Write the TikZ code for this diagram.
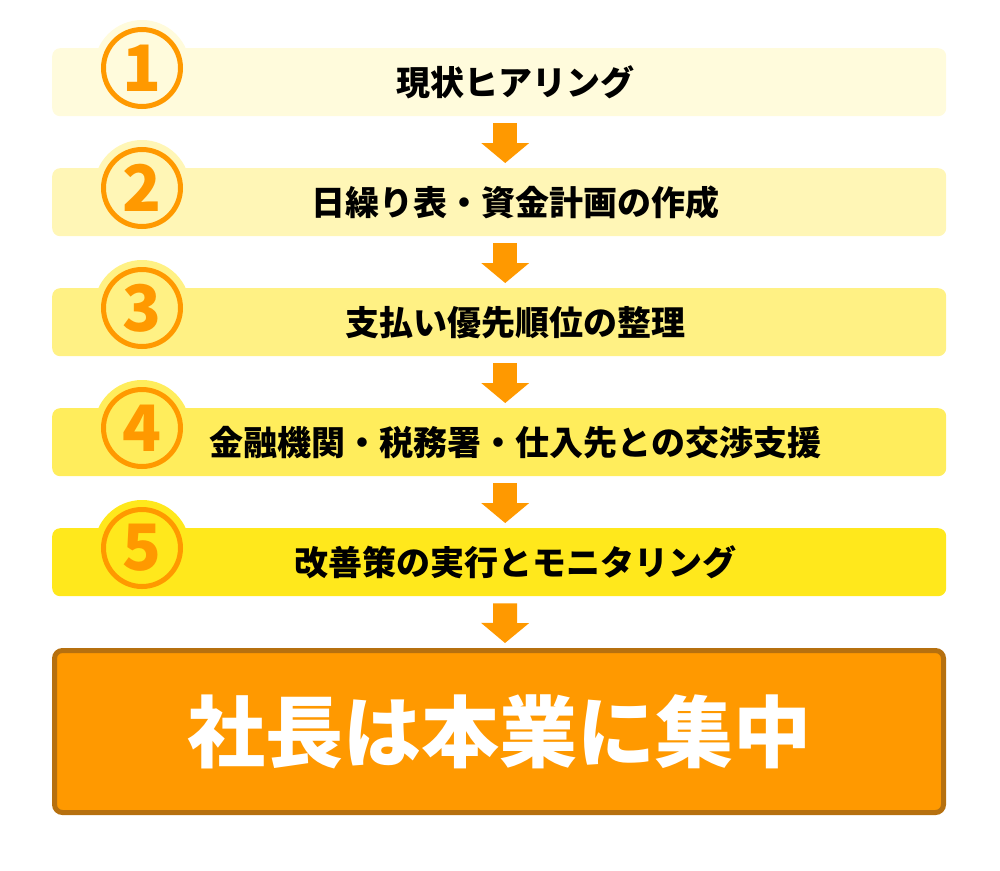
\documentclass[tikz,border=0pt]{standalone}
\usepackage{fontspec}
\usetikzlibrary{arrows.meta,positioning}
\newfontfamily\jp{Noto Sans CJK JP}
\definecolor{barA}{HTML}{FFFBDC}
\definecolor{barB}{HTML}{FFF6B6}
\definecolor{barC}{HTML}{FFF184}
\definecolor{barD}{HTML}{FFED5C}
\definecolor{barE}{HTML}{FFE81C}
\definecolor{flow}{HTML}{FF9900}
\definecolor{rim}{HTML}{B6700F}
\tikzset{
  bar/.style     = {rounded corners=8pt, minimum width=894pt, minimum height=68pt,
                    inner sep=0pt, anchor=north west},
  disc/.style    = {circle, minimum size=96pt, inner sep=0pt},
  badge/.style   = {circle, draw=flow, line width=5pt, minimum size=77pt, inner sep=0pt,
                    text=flow, font=\jp\bfseries\fontsize{64}{64}\selectfont},
  caption/.style = {font=\jp\bfseries\fontsize{34}{40}\selectfont, text=black},
  goal/.style    = {draw=rim, fill=flow, line width=5pt, rounded corners=8pt,
                    minimum width=889pt, minimum height=162pt, text=white,
                    font=\jp\bfseries\fontsize{78}{90}\selectfont},
  flowarrow/.style = {draw=flow, line width=24pt,
                      -{Triangle[width=48pt,length=20pt,line width=0pt]},
                      shorten <=7pt, shorten >=5pt}
}
\newcommand{\stepbar}[5]{
  \node[bar, fill=#3] (#1) at (52,#2) {};
  \node[disc, fill=#3] at (142,#2+20) {};
  \node[badge] (#1n) at (142,#2+20) {#4};
  \node[caption] (#1t) at ([xshift=16pt]#1.center) {#5};
}

\begin{document}
\begin{tikzpicture}[x=1pt, y=-1pt]
  \useasboundingbox (0,0) rectangle (1000,870);
  \stepbar{s1}{48}{barA}{1}{現状ヒアリング}
  \stepbar{s2}{168}{barB}{2}{日繰り表・資金計画の作成}
  \stepbar{s3}{288}{barC}{3}{支払い優先順位の整理}
  \stepbar{s4}{408}{barD}{4}{金融機関・税務署・仕入先との交渉支援}
  \stepbar{s5}{528}{barE}{5}{改善策の実行とモニタリング}
  \node[goal] (g) at (499,731.5) {社長は本業に集中};
  % arrows between the steps
  \draw[flowarrow] ([xshift=6pt]s1.south) -- ([xshift=6pt]s2.north);
  \draw[flowarrow] ([xshift=6pt]s2.south) -- ([xshift=6pt]s3.north);
  \draw[flowarrow] ([xshift=6pt]s3.south) -- ([xshift=6pt]s4.north);
  \draw[flowarrow] ([xshift=6pt]s4.south) -- ([xshift=6pt]s5.north);
  \draw[flowarrow] ([xshift=6pt]s5.south) -- ([xshift=6pt]g.north);
\end{tikzpicture}
\end{document}
